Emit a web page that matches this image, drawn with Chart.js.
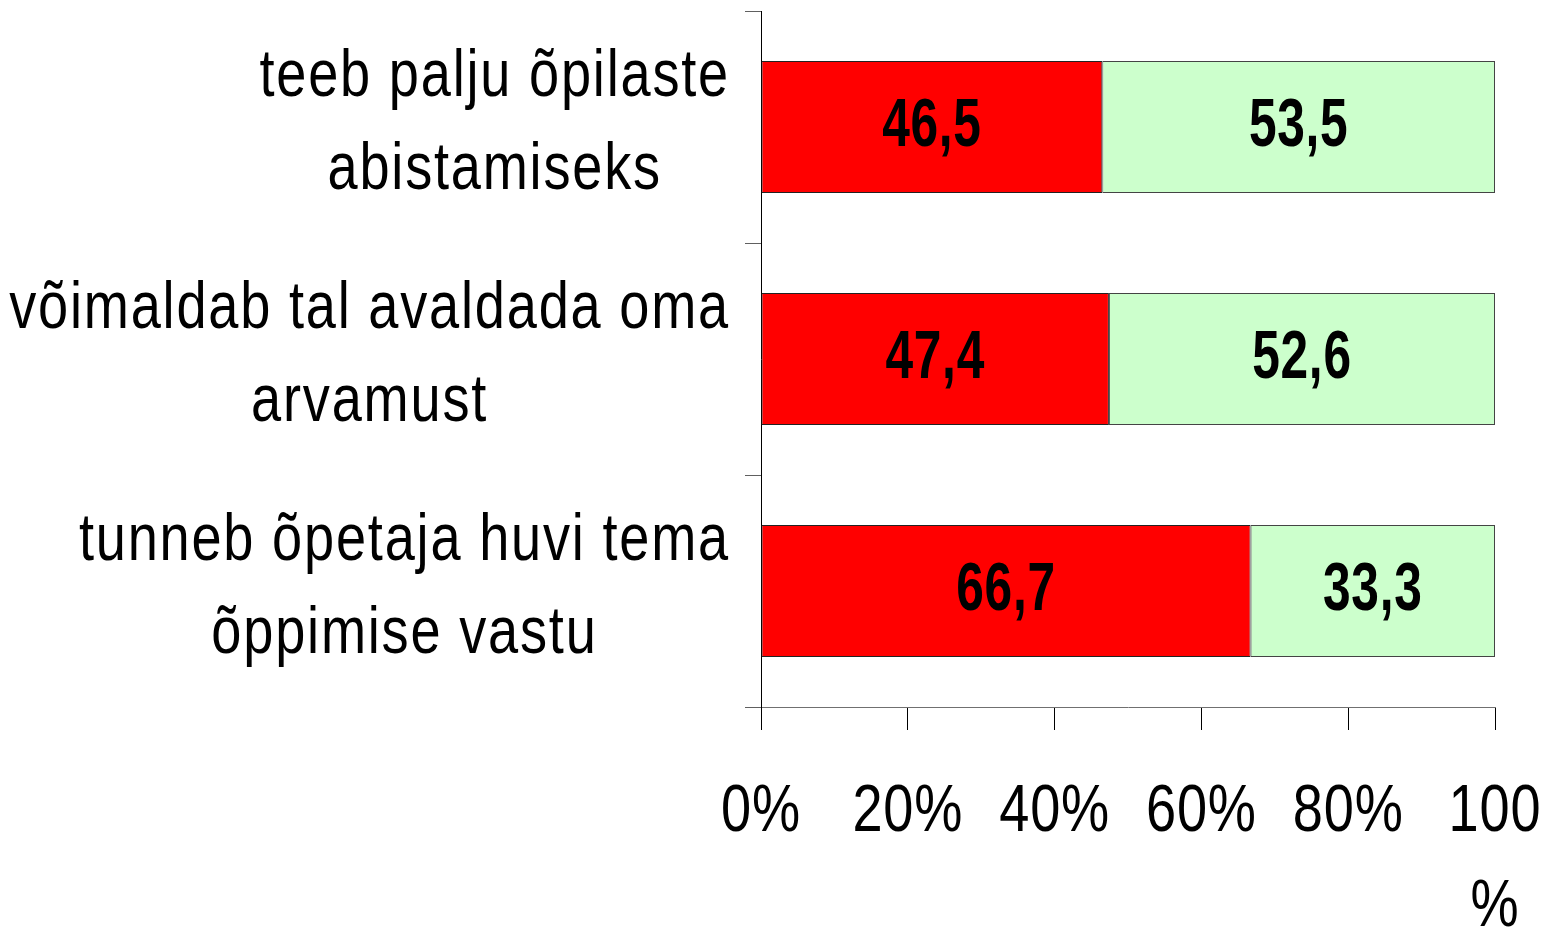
<!DOCTYPE html>
<html><head><meta charset="utf-8">
<script src="https://cdn.jsdelivr.net/npm/chart.js@4/dist/chart.umd.min.js"></script>
<style>html,body{margin:0;padding:0;background:#fff}#wrap{width:1553px;height:935px;position:relative}</style>
</head><body><div id="wrap"><canvas id="c"></canvas></div>
<script>
const categories = [
  ["teeb palju õpilaste", "abistamiseks"],
  ["võimaldab tal avaldada oma", "arvamust"],
  ["tunneb õpetaja huvi tema", "õppimise vastu"]
];
const redValues = [46.5, 47.4, 66.7];
const greenValues = [53.5, 52.6, 33.3];
const xTickValues = [0, 20, 40, 60, 80, 100];
const xTickLabels = [["0%"], ["20%"], ["40%"], ["60%"], ["80%"], ["100", "%"]];

const FONT = '"Liberation Sans", Arial, sans-serif';
const SX = 0.82;   // horizontal condensing (Arial Narrow look)

function drawNarrow(ctx, text, x, y, sx) {
  ctx.save();
  ctx.scale(sx, 1);
  ctx.fillText(text, x / sx, y);
  ctx.restore();
}
function measureNarrow(ctx, text, sx) {
  return ctx.measureText(text).width * sx;
}

const categoryLabelPlugin = {
  id: 'catLabels',
  afterDraw(chart) {
    const ctx = chart.ctx;
    const ys = chart.scales.y;
    ctx.save();
    ctx.font = '66px ' + FONT;
    try { ctx.letterSpacing = '2.2px'; } catch (e) {}
    ctx.fillStyle = '#000';
    ctx.textAlign = 'center';
    ctx.textBaseline = 'middle';
    const rightEdge = ys.right - 31;
    const lh = 93;
    categories.forEach((lines, i) => {
      const cy = ys.getPixelForValue(i);
      let w = 0;
      lines.forEach(l => { w = Math.max(w, measureNarrow(ctx, l, SX)); });
      const cx = rightEdge - w / 2;
      const startY = cy - 3 - (lines.length - 1) * lh / 2;
      lines.forEach((l, k) => drawNarrow(ctx, l, cx, startY + k * lh, SX));
    });
    ctx.restore();
  }
};

const xTickLabelPlugin = {
  id: 'xTickLabels',
  afterDraw(chart) {
    const ctx = chart.ctx;
    const xs = chart.scales.x;
    ctx.save();
    ctx.font = '66px ' + FONT;
    try { ctx.letterSpacing = '1px'; } catch (e) {}
    ctx.fillStyle = '#000';
    ctx.textAlign = 'center';
    ctx.textBaseline = 'middle';
    xTickValues.forEach((v, i) => {
      const px = xs.getPixelForValue(v);
      xTickLabels[i].forEach((l, k) => drawNarrow(ctx, l, px, xs.top + 106 + k * 95, SX));
    });
    ctx.restore();
  }
};

const valueLabelPlugin = {
  id: 'valLabels',
  afterDatasetsDraw(chart) {
    const ctx = chart.ctx;
    ctx.save();
    ctx.font = 'bold 68px ' + FONT;
    try { ctx.letterSpacing = '1px'; } catch (e) {}
    ctx.fillStyle = '#000';
    ctx.textAlign = 'center';
    ctx.textBaseline = 'middle';
    chart.data.datasets.forEach((ds, di) => {
      const meta = chart.getDatasetMeta(di);
      meta.data.forEach((bar, i) => {
        const txt = ds.data[i].toFixed(1).replace('.', ',');
        drawNarrow(ctx, txt, (bar.x + bar.base) / 2, bar.y, 0.73);
      });
    });
    ctx.restore();
  }
};

new Chart(document.getElementById('c'), {
  type: 'bar',
  data: {
    labels: categories,
    datasets: [
      { data: redValues, backgroundColor: '#FF0000', borderColor: '#222', borderWidth: 1, borderSkipped: false,
        barPercentage: 0.57, categoryPercentage: 1 },
      { data: greenValues, backgroundColor: '#CCFFCC', borderColor: '#444', borderWidth: 1, borderSkipped: false,
        barPercentage: 0.57, categoryPercentage: 1 }
    ]
  },
  options: {
    indexAxis: 'y',
    responsive: true,
    maintainAspectRatio: false,
    animation: false,
    devicePixelRatio: 1,
    layout: { padding: { left: 0, right: 58, top: 11, bottom: 0 } },
    plugins: { legend: { display: false }, tooltip: { enabled: false } },
    scales: {
      x: {
        type: 'linear', stacked: true, min: 0, max: 100,
        afterBuildTicks(scale) { scale.ticks = xTickValues.map(v => ({ value: v })); },
        afterFit(scale) { scale.height = 228; scale.paddingLeft = 0; scale.paddingRight = 0; },
        ticks: { display: false },
        grid: { display: true, drawOnChartArea: false, drawTicks: true, tickLength: 23, color: '#000', lineWidth: 1 },
        border: { display: true, color: '#707070', width: 1 }
      },
      y: {
        type: 'category', stacked: true,
        afterFit(scale) { scale.width = 761; },
        ticks: { display: false },
        grid: { display: true, offset: true, drawOnChartArea: false, drawTicks: true, tickLength: 16, color: '#606060', lineWidth: 1 },
        border: { display: true, color: '#000', width: 1 }
      }
    }
  },
  plugins: [categoryLabelPlugin, xTickLabelPlugin, valueLabelPlugin]
});
</script>
</body></html>
